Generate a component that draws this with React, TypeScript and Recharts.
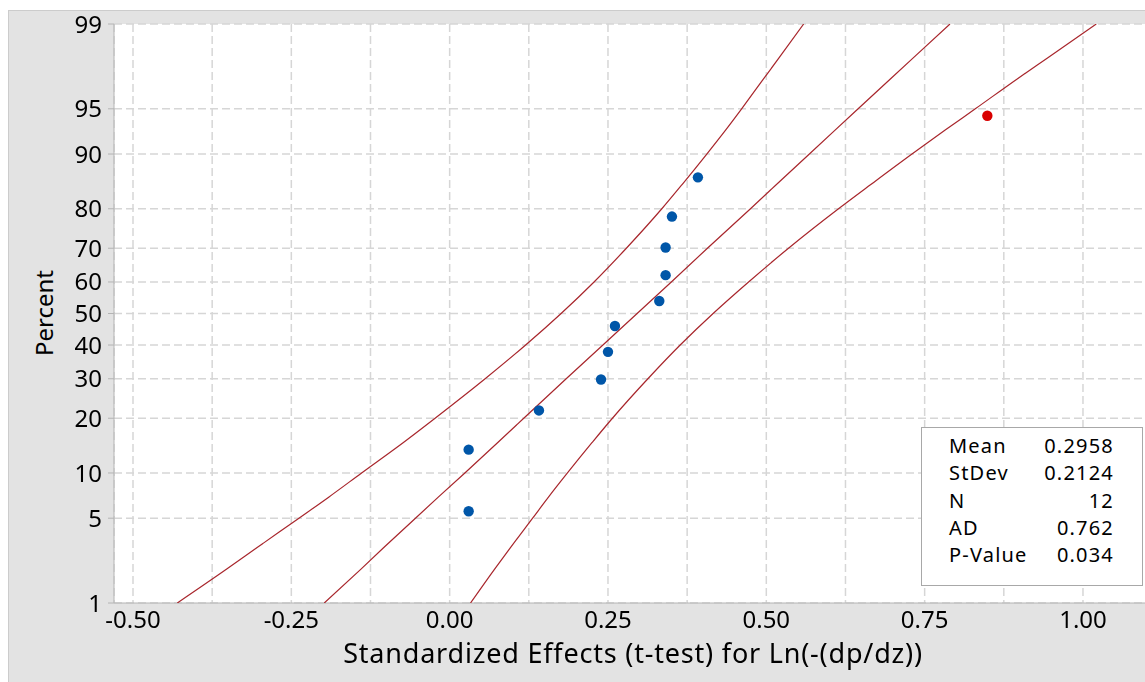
import {
  ComposedChart, Scatter, XAxis, YAxis, CartesianGrid,
} from "recharts";

// percent scale ticks (probability axis)
const pctTicks = [1, 5, 10, 20, 30, 40, 50, 60, 70, 80, 90, 95, 99];
// x gridlines every 0.125, labels every 0.25
const effectTicks = [-0.5, -0.375, -0.25, -0.125, 0, 0.125, 0.25, 0.375, 0.5, 0.625, 0.75, 0.875, 1.0];

// blue points (not significant)
const effects = [0.030, 0.030, 0.141, 0.239, 0.250, 0.261, 0.331, 0.341, 0.341, 0.351, 0.392];
const effectPct = [5.6, 13.7, 21.8, 29.8, 37.9, 46.0, 54.0, 62.1, 70.2, 78.2, 86.3];
// red point (significant)
const sigEffects = [0.849];
const sigPct = [94.4];

// fitted line and 95% band, read at these percents
const bandPct = [1, 2, 3, 5, 7, 10, 15, 20, 30, 40, 50, 60, 70, 80, 85, 90, 93, 95, 97, 98, 99];
const fitLine = [-0.198, -0.140, -0.104, -0.054, -0.018, 0.024, 0.076, 0.117, 0.184, 0.242, 0.296, 0.350, 0.407, 0.475, 0.516, 0.568, 0.609, 0.645, 0.695, 0.732, 0.790];
const bandLeft = [-0.430, -0.352, -0.304, -0.238, -0.191, -0.139, -0.073, -0.023, 0.056, 0.120, 0.176, 0.228, 0.279, 0.335, 0.367, 0.406, 0.436, 0.461, 0.495, 0.520, 0.559];
const bandRight = [0.033, 0.071, 0.096, 0.131, 0.156, 0.186, 0.225, 0.257, 0.313, 0.364, 0.416, 0.472, 0.535, 0.614, 0.665, 0.730, 0.783, 0.830, 0.895, 0.944, 1.021];

const statLabels = ["Mean", "StDev", "N", "AD", "P-Value"];
const statValues = ["0.2958", "0.2124", "12", "0.762", "0.034"];

// inverse normal cdf (Acklam), used as the y "scale"
function probit(p: number): number {
  const a = [-39.69683028665376, 220.9460984245205, -275.9285104469687, 138.3577518672690, -30.66479806614716, 2.506628277459239];
  const b = [-54.47609879822406, 161.5858368580409, -155.6989798598866, 66.80131188771972, -13.28068155288572];
  const c = [-0.007784894002430293, -0.3223964580411365, -2.400758277161838, -2.549732539343734, 4.374664141464968, 2.938163982698783];
  const d = [0.007784695709041462, 0.3224671290700398, 2.445134137142996, 3.754408661907416];
  const plow = 0.02425;
  if (p < plow) {
    const q = Math.sqrt(-2 * Math.log(p));
    return (((((c[0] * q + c[1]) * q + c[2]) * q + c[3]) * q + c[4]) * q + c[5]) /
      ((((d[0] * q + d[1]) * q + d[2]) * q + d[3]) * q + 1);
  }
  if (p <= 1 - plow) {
    const q = p - 0.5;
    const r = q * q;
    return (((((a[0] * r + a[1]) * r + a[2]) * r + a[3]) * r + a[4]) * r + a[5]) * q /
      (((((b[0] * r + b[1]) * r + b[2]) * r + b[3]) * r + b[4]) * r + 1);
  }
  return -probit(1 - p);
}

const toZ = (pct: number) => probit(pct / 100);
const zTicks = pctTicks.map(toZ);

const pts = (xs: number[], ps: number[]) => xs.map((x, i) => ({ x, z: toZ(ps[i]) }));

const FONT = '"Noto Sans", sans-serif';
const LINE_RED = "#a8262c";

const hidden = () => <g />;
const dot = (color: string) => (p: any) => <circle cx={p.cx} cy={p.cy} r={5.2} fill={color} />;

export default function App() {
  return (
    <div
      style={{
        position: "fixed", left: 8, top: 0, width: 1137, height: 682,
        overflow: "hidden", fontFamily: FONT,
      }}
    >
      {/* gray frame */}
      <div
        style={{
          position: "absolute", left: 0, top: 10, width: 1137, height: 672,
          background: "#e3e3e3", boxShadow: "inset 1px 1px 0 #cccccc",
        }}
      />
      <div style={{ position: "absolute", left: 0, top: 0 }}>
        <ComposedChart width={1160} height={682} margin={{ top: 24, right: 16, bottom: 0, left: 0 }}>
          <CartesianGrid fill="#ffffff" fillOpacity={1} stroke="#d6d6d6" strokeWidth={1.5} strokeDasharray="8 4" />
          <XAxis
            type="number"
            dataKey="x"
            domain={[-0.53, 1.109]}
            allowDataOverflow
            ticks={effectTicks}
            interval={0}
            height={79}
            tickSize={0}
            tickMargin={8}
            tickLine={false}
            axisLine={{ stroke: "#b4b4b4" }}
            tick={{ fontSize: 24, fill: "#000", fontFamily: FONT }}
            tickFormatter={(v: number) => (Math.abs(v * 4 - Math.round(v * 4)) < 1e-6 ? v.toFixed(2) : "")}
            label={{
              value: "Standardized Effects (t-test) for Ln(-(dp/dz))",
              position: "insideBottom",
              offset: 19,
              style: { fontSize: 27, letterSpacing: 0.8, fill: "#000", fontFamily: FONT },
            }}
          />
          <YAxis
            type="number"
            dataKey="z"
            domain={[zTicks[0], zTicks[zTicks.length - 1]]}
            allowDataOverflow
            ticks={zTicks}
            interval={0}
            width={106}
            tickSize={6}
            tickMargin={6}
            axisLine={{ stroke: "#b4b4b4" }}
            tickLine={{ stroke: "#b4b4b4" }}
            tick={{ fontSize: 24, fill: "#000", fontFamily: FONT }}
            tickFormatter={(v: number) => {
              const i = zTicks.findIndex(t => Math.abs(t - v) < 1e-6);
              return i >= 0 ? String(pctTicks[i]) : "";
            }}
            label={{
              content: () => (
                <text
                  x={44.7}
                  y={313}
                  transform="rotate(-90 44.7 313)"
                  textAnchor="middle"
                  fontSize={24}
                  fill="#000"
                  fontFamily={FONT}
                >
                  Percent
                </text>
              ),
            }}
          />
          <Scatter data={pts(bandLeft, bandPct)} shape={hidden} line={{ stroke: LINE_RED, strokeWidth: 1.2 }} lineJointType="monotoneY" isAnimationActive={false} />
          <Scatter data={pts(fitLine, bandPct)} shape={hidden} line={{ stroke: LINE_RED, strokeWidth: 1.2 }} lineJointType="linear" isAnimationActive={false} />
          <Scatter data={pts(bandRight, bandPct)} shape={hidden} line={{ stroke: LINE_RED, strokeWidth: 1.2 }} lineJointType="monotoneY" isAnimationActive={false} />
          <Scatter data={pts(effects, effectPct)} shape={dot("#0056a8")} isAnimationActive={false} />
          <Scatter data={pts(sigEffects, sigPct)} shape={dot("#d90000")} isAnimationActive={false} />
        </ComposedChart>
      </div>
      <div
        style={{
          position: "absolute", left: 913, top: 427, width: 222, height: 159,
          boxSizing: "border-box", background: "#fff", border: "1px solid #a8a8a8",
          padding: "4px 28px 0 27px", fontSize: 20, letterSpacing: 1.2,
          color: "#000", lineHeight: "27.3px",
        }}
      >
        {statLabels.map((s, i) => (
          <div key={s} style={{ display: "flex", justifyContent: "space-between" }}>
            <span>{s}</span>
            <span>{statValues[i]}</span>
          </div>
        ))}
      </div>
    </div>
  );
}
